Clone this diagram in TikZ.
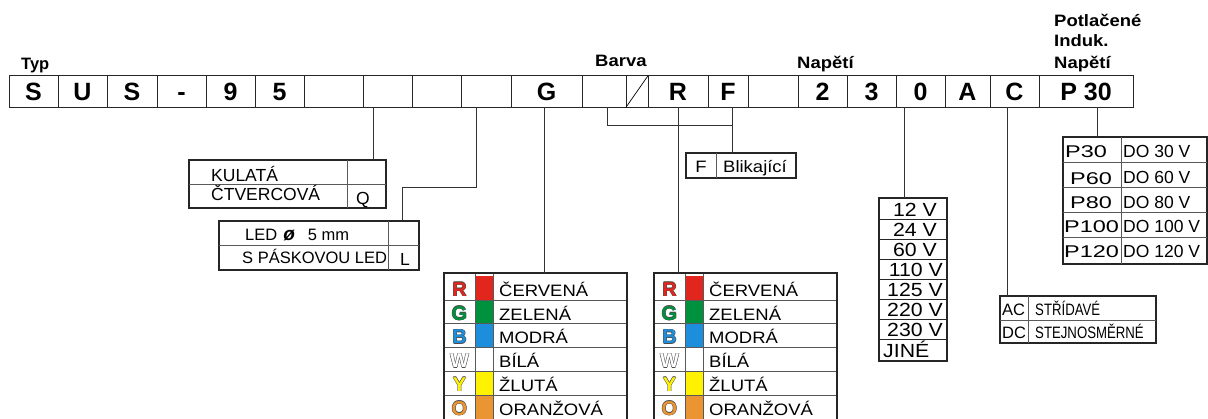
\documentclass[tikz,border=0pt]{standalone}
\usepackage{fontspec}
\setmainfont{Liberation Sans}
\newfontfamily\widefont[FakeStretch=1.12]{Liberation Sans}
\newfontfamily\widerfont[FakeStretch=1.38]{Liberation Sans}
\newfontfamily\narrowfont[FakeStretch=0.8]{Liberation Sans}
\usetikzlibrary{calc, positioning}

\definecolor{ledred}{HTML}{E0261D}
\definecolor{ledgreen}{HTML}{00913F}
\definecolor{ledblue}{HTML}{1C8EDC}
\definecolor{ledyellow}{HTML}{FFF200}
\definecolor{ledorange}{HTML}{EB9432}

% obrysove pismeno
\newcommand{\outlet}[2]{%
  \leavevmode
  \rlap{\kern0.5pt\textcolor{black!70}{#2}}%
  \rlap{\kern-0.5pt\textcolor{black!70}{#2}}%
  \rlap{\raisebox{0.5pt}{\textcolor{black!70}{#2}}}%
  \rlap{\raisebox{-0.5pt}{\textcolor{black!70}{#2}}}%
  \textcolor{#1}{#2}}

\tikzset{
  cell/.style={draw=black!85, line width=0.9pt, minimum height=31.5pt,
    inner sep=0pt, outer sep=0pt, text height=18pt, text depth=0pt,
    font=\fontsize{25}{25}\selectfont\bfseries},
  lbl/.style={inner sep=0pt, font=\fontsize{16.5}{16.5}\selectfont\bfseries},
  tbox/.style={draw=black!85, line width=2.2pt, inner sep=0pt, outer sep=0pt},
  inline/.style={draw=black!65, line width=0.7pt},
  wire/.style={draw=black!80, line width=0.9pt},
  txt/.style={inner sep=0pt, font=\fontsize{17.5}{17.5}\selectfont},
}

\begin{document}
\begin{tikzpicture}[x=1pt, y=-1pt]
    \useasboundingbox (0,0) rectangle (1208,418);

    % Radek s oznacenim
    \foreach \xa/\xb/\t [count=\i] in {9/58/S, 58/107/U, 107/157/S, 157/206/-,
        206/255/9, 255/304/5, 304/363/, 363/412/, 412/461/, 461/511/, 511/582/G,
        582/626/, 626/648/, 648/708/R, 708/748/F, 748/798/, 798/847/2, 847/896/3,
        896/945/0, 945/990/A, 990/1039/C, 1039/1133/P 30}
        \node[cell, minimum width={(\xb-\xa)*1pt}] (c\i) at ({(\xa+\xb)/2},91.5) {\t};
    \draw[line width=0.7pt] (c13.south west) -- (c13.north east);

    % Nadpisy
    \node[lbl, anchor=base west] (typ) at (21,69.3) {Typ};
    \node[lbl, anchor=base west] (barva) at (595,66.7) {\widefont Barva};
    \node[lbl, anchor=base west] (napeti) at (797,68.3) {\widefont Napětí};
    \node[lbl, anchor=base west] (pot1) at (1054,26) {\widefont Potlačené};
    \node[lbl, anchor=base west] (pot2) at (1054,46.7) {\widefont Induk.};
    \node[lbl, anchor=base west] (pot3) at (1054,68.3) {\widefont Napětí};

    % Tvar
    \node[tbox, anchor=north west, minimum width=197pt, minimum height=48pt] (kul) at (189,160) {};
    \draw[inline] (189,184) -- (386,184);
    \draw[inline] (347,160) -- (347,208);
    \node[txt, anchor=base west] (kul1) at (211,181) {KULATÁ};
    \node[txt, anchor=base west] (kul2) at (211,200) {ČTVERCOVÁ};
    \node[txt, anchor=base] (kulq) at (363,204) {Q};

    % LED
    \node[tbox, anchor=north west, minimum width=200pt, minimum height=49pt] (led) at (219,221) {};
    \draw[inline] (219,245) -- (419,245);
    \draw[inline] (388,221) -- (388,270);
    \coordinate (ledL) at (402,221);
    \node[txt, anchor=base west, font=\fontsize{16.5}{16.5}\selectfont] (led1) at (245,240)
        {LED\hspace{6pt}{\fontsize{19}{19}\selectfont\bfseries\itshape ø}\hspace{13pt}5 mm};
    \node[txt, anchor=base west, font=\fontsize{16.5}{16.5}\selectfont] (led2) at (242,263) {S PÁSKOVOU LED};
    \node[txt, anchor=base] (ledl) at (405,265) {L};

    % Barvy
    \foreach \tx/\nm in {444/ctabA, 654/ctabB} {
        \foreach \lc/\lt/\name [count=\r] in {ledred/R/ČERVENÁ, ledgreen/G/ZELENÁ,
            ledblue/B/MODRÁ, white/W/BÍLÁ, ledyellow/Y/ŽLUTÁ, ledorange/O/ORANŽOVÁ} {
            \fill[\lc] ({\tx+31},{252.5+23.75*\r}) rectangle ({\tx+49},{276.25+23.75*\r});
            \node[inner sep=0pt, anchor=base, font=\fontsize{20}{20}\selectfont\bfseries]
                (\nm-l\r) at ({\tx+15.5},{272.5+23.75*\r}) {\outlet{\lc}{\lt}};
            \node[txt, anchor=base west, font=\fontsize{16.5}{16.5}\widefont]
                (\nm-t\r) at ({\tx+55},{272.5+23.75*\r}) {\name};
        }
        \foreach \yy in {300,323.75,347.5,371.25,395}
            \draw[inline] (\tx,\yy) -- ++(183,0);
        \draw[inline] ({\tx+31},273) -- ++(0,150);
        \draw[inline] ({\tx+49},273) -- ++(0,150);
        \node[tbox, anchor=north west, minimum width=183pt, minimum height=150pt] (\nm) at (\tx,273) {};
    }

    % Blikani
    \node[tbox, anchor=north west, minimum width=110pt, minimum height=25pt] (blk) at (686,153) {};
    \draw[inline] (716,153) -- (716,178);
    \node[txt, anchor=base, font=\fontsize{16.5}{16.5}\widefont] (blkf) at (701,172) {F};
    \node[txt, anchor=base west, font=\fontsize{16.5}{16.5}\widefont] (blkt) at (723,172) {Blikající};

    % Napeti
    \node[tbox, anchor=north west, minimum width=68pt, minimum height=163pt] (volt) at (879,198) {};
    \foreach \yy in {219,239,259,279,299,319,339}
        \draw[draw=black!85, line width=0.8pt] (879,\yy) -- (947,\yy);
    \foreach \v/\xe [count=\k] in {12 V/937, 24 V/937, 60 V/937, 110 V/943,
        125 V/943, 220 V/943, 230 V/943}
        \node[txt, anchor=base east, font=\fontsize{19}{19}\widefont] (volt\k) at (\xe,{196+20*\k}) {\v};
    \node[txt, anchor=base west, font=\fontsize{19}{19}\widefont] (volt8) at (883,357) {JINÉ};

    % AC / DC
    \node[tbox, anchor=north west, minimum width=156pt, minimum height=47pt] (acdc) at (1000,296) {};
    \draw[inline] (1000,320) -- (1156,320);
    \draw[inline] (1028,296) -- (1028,343);
    \node[txt, anchor=base west, font=\fontsize{16.5}{16.5}\selectfont] (ac) at (1002,315) {AC};
    \node[txt, anchor=base west, font=\fontsize{16.5}{16.5}\selectfont] (dc) at (1002,338) {DC};
    \node[txt, anchor=base west, font=\fontsize{16.5}{16.5}\narrowfont] (act) at (1035,315) {STŘÍDAVÉ};
    \node[txt, anchor=base west, font=\fontsize{16.5}{16.5}\narrowfont] (dct) at (1035,338) {STEJNOSMĚRNÉ};

    % Potlacene napeti
    \node[tbox, anchor=north west, minimum width=144pt, minimum height=127pt] (ptab) at (1063,137) {};
    \foreach \yy in {162,187,212,237}
        \draw[inline] (1063,\yy) -- (1207,\yy);
    \draw[inline] (1121,137) -- (1121,264);
    \foreach \p/\px/\pb/\d/\db [count=\k] in {P30/1065/157/DO 30 V/157, P60/1070/184/DO 60 V/183,
        P80/1070/208/DO 80 V/208, P100/1064/232/DO 100 V/232, P120/1064/257/DO 120 V/257} {
        \node[txt, anchor=base west, font=\fontsize{17}{17}\widerfont] (pp\k) at (\px,\pb) {\p};
        \node[txt, anchor=base west, font=\fontsize{17.5}{17.5}\selectfont] (pd\k) at (1123,\db) {\d};
    }

    % Spojovaci cary
    \coordinate (t8) at ($(c8.south west)+(10,0)$);
    \coordinate (t10) at ($(c10.south west)+(15,0)$);
    \coordinate (t11) at ($(c11.south west)+(33,0)$);
    \coordinate (t12) at ($(c12.south west)+(25,0)$);
    \coordinate (t15) at ($(c15.south west)+(24,0)$);
    \coordinate (t19) at ($(c19.south west)+(8,0)$);
    \coordinate (t21) at ($(c21.south west)+(17,0)$);
    \coordinate (t22) at ($(c22.south west)+(58,0)$);
    \draw[wire] (t8) -- (t8 |- kul.north);
    \draw[wire] (t10) -- ++(0,80) -| (ledL);
    \draw[wire] (t11) -- (t11 |- ctabA.north);
    \draw[wire] (t12) |- ($(t15)+(0,18.4)$);
    \draw[wire] (t15) -- (t15 |- blk.north);
    \draw[wire] (c14.south) -- (c14.south |- ctabB.north);
    \draw[wire] (t19) -- (t19 |- volt.north);
    \draw[wire] (t21) -- (t21 |- acdc.north);
    \draw[wire] (t22) -- (t22 |- ptab.north);

\end{tikzpicture}
\end{document}
